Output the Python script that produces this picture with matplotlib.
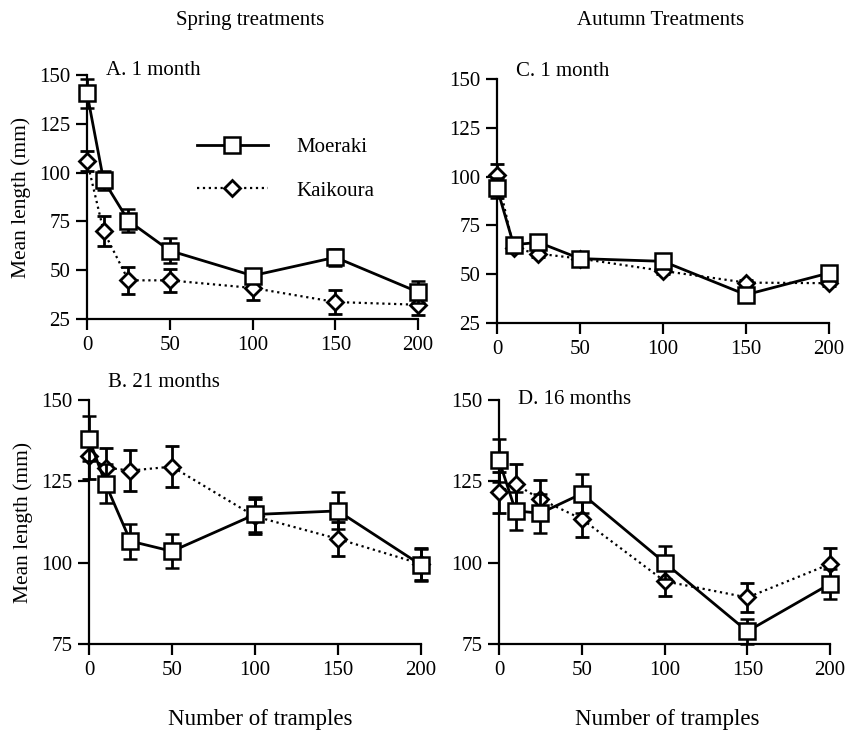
import numpy as np
import matplotlib
matplotlib.use('Agg')
import matplotlib.pyplot as plt
from matplotlib.lines import Line2D

plt.rcParams['font.family'] = ['Liberation Serif', 'DejaVu Serif']

tramples = [0, 10, 25, 50, 100, 150, 200]

# A. spring, 1 month
a_moeraki = [140.6, 96, 75.3, 60, 47.2, 56.6, 38.8]
a_moeraki_err = [7.5, 5, 5.8, 6.5, 3.5, 4.5, 5.8]
a_kaikoura = [106, 70, 44.8, 44.8, 40.9, 33.7, 32.3]
a_kaikoura_err = [5, 7.5, 7, 6, 6, 6, 5.5]

# B. spring, 21 months
b_moeraki = [138.1, 124.2, 106.6, 103.5, 114.8, 115.9, 99.3]
b_moeraki_err = [7, 6, 5.4, 5.2, 5.5, 5.7, 5]
b_kaikoura = [132.8, 129.2, 128.3, 129.5, 114.2, 107.3, 99.6]
b_kaikoura_err = [7, 6, 6.2, 6.4, 5.5, 5.2, 5]

# C. autumn, 1 month
c_moeraki = [94.2, 65.1, 66.3, 58, 56.6, 39.5, 50.6]
c_moeraki_err = [5, 2, 2, 1.5, 2, 1.5, 2]
c_kaikoura = [101, 63.4, 60.5, 58, 51.7, 45.7, 45.4]
c_kaikoura_err = [5.5, 1.5, 1.5, 1.5, 1.5, 1.5, 1.5]

# D. autumn, 16 months
d_moeraki = [131.4, 115.9, 115.2, 121.2, 100, 78.9, 93.5]
d_moeraki_err = [6.5, 5.8, 6, 6, 5, 3.8, 4.7]
d_kaikoura = [121.6, 124.1, 119.5, 113.4, 94.3, 89.3, 99.6]
d_kaikoura_err = [6.2, 6.2, 6, 5.6, 4.7, 4.4, 4.9]

fig = plt.figure(figsize=(8.49, 7.33), dpi=100)

panels = [
    ([0.1025, 0.5648, 0.39, 0.333], 'A. 1 month', 1.02, a_moeraki, a_moeraki_err, a_kaikoura, a_kaikoura_err, (25, 150), [25, 50, 75, 100, 125, 150], True),
    ([0.1048, 0.1214, 0.391, 0.333], 'B. 21 months', 1.07, b_moeraki, b_moeraki_err, b_kaikoura, b_kaikoura_err, (75, 150), [75, 100, 125, 150], True),
    ([0.5854, 0.5593, 0.391, 0.333], 'C. 1 month', 1.03, c_moeraki, c_moeraki_err, c_kaikoura, c_kaikoura_err, (25, 150), [25, 50, 75, 100, 125, 150], False),
    ([0.5878, 0.1214, 0.39, 0.333], 'D. 16 months', 1.0, d_moeraki, d_moeraki_err, d_kaikoura, d_kaikoura_err, (75, 150), [75, 100, 125, 150], False),
]

axes = []
for rect, title, ty, mo, mo_err, ka, ka_err, ylim, yticks, ylab in panels:
    ax = fig.add_axes(rect)
    ax.errorbar(tramples, ka, yerr=ka_err, color='black', linestyle=':', linewidth=1.6,
                marker='D', markersize=8, markerfacecolor='white', markeredgewidth=2,
                capsize=5, capthick=2, elinewidth=2, clip_on=False, zorder=3)
    ax.errorbar(tramples, mo, yerr=mo_err, color='black', linestyle='-', linewidth=2,
                marker='s', markersize=12, markerfacecolor='white', markeredgewidth=1.8,
                capsize=5, capthick=2, elinewidth=2, clip_on=False, zorder=4)
    ax.set_xlim(0, 200)
    ax.set_ylim(*ylim)
    ax.set_xticks([0, 50, 100, 150, 200])
    ax.set_yticks(yticks)
    for s in ['top', 'right']:
        ax.spines[s].set_visible(False)
    for s in ['left', 'bottom']:
        ax.spines[s].set_linewidth(1.6)
    ax.tick_params(direction='out', length=8, width=1.6, labelsize=15, pad=4)
    ax.text(0.058, ty, title, transform=ax.transAxes, fontsize=15, va='center', ha='left')
    if ylab:
        ax.set_ylabel('Mean length (mm)', fontsize=15.5, labelpad=6)
    axes.append(ax)

handles = [
    Line2D([], [], color='black', linestyle='-', linewidth=2, marker='s', markersize=12,
           markerfacecolor='white', markeredgewidth=1.8),
    Line2D([], [], color='black', linestyle=':', linewidth=1.6, marker='D', markersize=8,
           markerfacecolor='white', markeredgewidth=2),
]
axes[0].legend(handles, ['Moeraki', 'Kaikoura'], loc='upper left', bbox_to_anchor=(0.275, 0.82),
               frameon=False, fontsize=15, handlelength=3.4, labelspacing=1.15, handletextpad=1.4)

fig.text(0.295, 0.972, 'Spring treatments', fontsize=15, ha='center', va='center')
fig.text(0.778, 0.972, 'Autumn Treatments', fontsize=15, ha='center', va='center')
fig.text(0.306, 0.018, 'Number of tramples', fontsize=16.5, ha='center', va='center')
fig.text(0.786, 0.018, 'Number of tramples', fontsize=16.5, ha='center', va='center')

fig.savefig('out.png', dpi=100)
